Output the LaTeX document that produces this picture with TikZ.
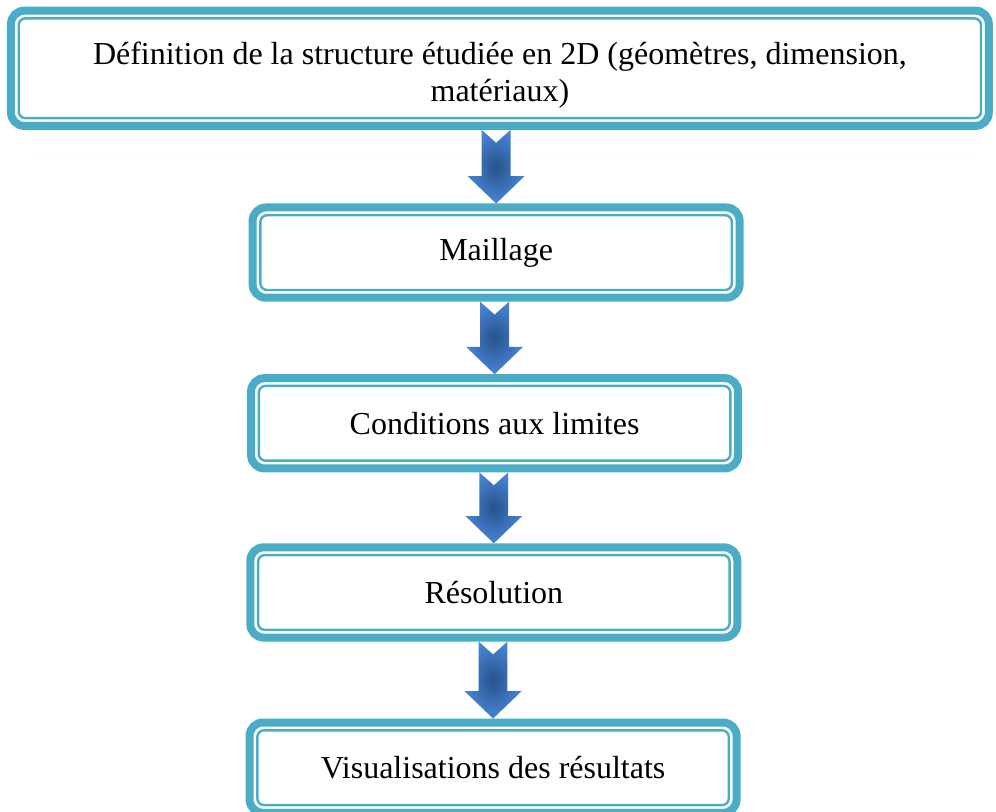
\documentclass[tikz,border=0pt]{standalone}
\usepackage{fontspec}
\setmainfont{Liberation Serif}
\usepackage{xcolor}
\usetikzlibrary{calc}

\definecolor{frame}{RGB}{75,172,198}
\definecolor{arrlight}{RGB}{72,132,212}
\definecolor{arrdark}{RGB}{40,82,140}

% block arrow from the bottom of one box to the top of the next
\newcommand{\flowarrow}[2]{%
  \shade[inner color=arrdark, outer color=arrlight]
    let \p1=(#1.south), \p2=(#2.north) in
    (\x2-0.19cm,\y1) -- (\x2,\y1-0.17cm) -- (\x2+0.19cm,\y1)
    -- (\x2+0.19cm,\y2+0.36cm) -- (\x2+0.375cm,\y2+0.36cm) -- (\x2,\y2)
    -- (\x2-0.375cm,\y2+0.36cm) -- (\x2-0.19cm,\y2+0.36cm) -- cycle;
}

\begin{document}
\begin{tikzpicture}[
    box/.style={rectangle, draw=frame, line width=3pt, rounded corners=5pt, minimum width=6.42cm, minimum height=1.19cm, align=center, font=\fontsize{12}{13.8}\selectfont},
    inner/.style={draw=frame, line width=0.9pt, rounded corners=2.5pt}
]
\useasboundingbox (0,0) rectangle (13.13,-10.70);

% --- Steps ---
\node[box, minimum width=12.89cm, minimum height=1.52cm, text height=25pt, text depth=0pt] (def) at (6.59,-0.90) {D\'efinition de la structure \'etudi\'ee en 2D (g\'eom\`etres, dimension,\\ mat\'eriaux)};
\node[box] (mail) at (6.54,-3.33) {Maillage};
\node[box] (cond) at (6.52,-5.58) {Conditions aux limites};
\node[box] (reso) at (6.51,-7.81) {R\'esolution};
\node[box] (visu) at (6.50,-10.12) {Visualisations des r\'esultats};

% --- Inner frames ---
\foreach \n in {def,mail,cond,reso,visu}
  \draw[inner] ([shift={(0.155,-0.155)}]\n.north west) rectangle ([shift={(-0.155,0.155)}]\n.south east);

% --- Arrows ---
\flowarrow{def}{mail}
\flowarrow{mail}{cond}
\flowarrow{cond}{reso}
\flowarrow{reso}{visu}
\end{tikzpicture}
\end{document}
